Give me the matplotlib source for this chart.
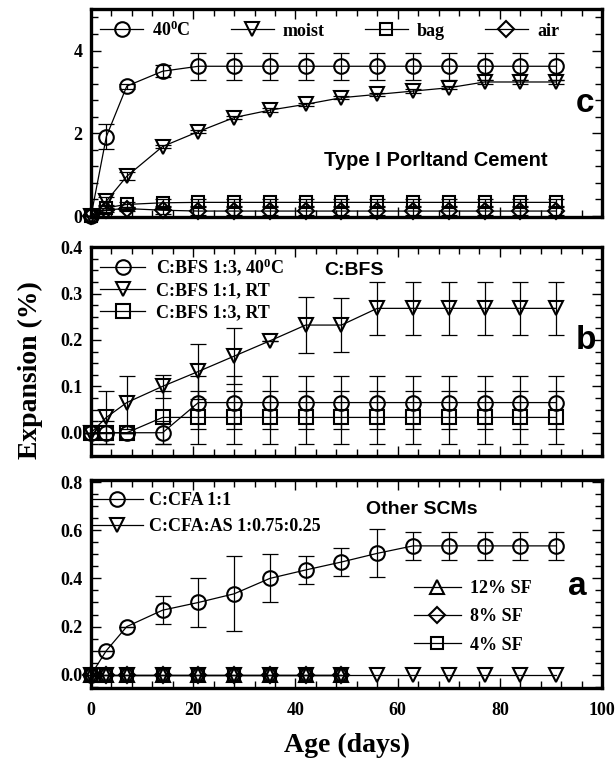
# expansion vs age, three stacked panels (c, b, a)
import numpy as np
import matplotlib.pyplot as plt
from matplotlib.ticker import MultipleLocator

plt.rcParams['font.family'] = 'Liberation Serif'
plt.rcParams['font.weight'] = 'bold'
plt.rcParams['mathtext.fontset'] = 'custom'
plt.rcParams['mathtext.rm'] = 'Liberation Serif:bold'
plt.rcParams['mathtext.it'] = 'Liberation Serif:bold'
plt.rcParams['mathtext.bf'] = 'Liberation Serif:bold'

# ages (days)
days = [0, 3, 7, 14, 21, 28, 35, 42, 49, 56, 63, 70, 77, 84, 91]

# panel c - Type I Portland cement
c_40 = [0, 1.92, 3.14, 3.50, 3.62, 3.62, 3.62, 3.62, 3.62, 3.62, 3.62, 3.62, 3.62, 3.62, 3.62]
c_40_err = [0, 0.30, 0.06, 0.14, 0.32, 0.32, 0.32, 0.32, 0.32, 0.32, 0.32, 0.32, 0.32, 0.32, 0.32]
c_moist = [0, 0.36, 0.96, 1.68, 2.04, 2.38, 2.56, 2.70, 2.86, 2.94, 3.02, 3.10, 3.24, 3.24, 3.24]
c_moist_err = [0, 0.10, 0.10, 0.04, 0.04, 0.04, 0.04, 0.04, 0.04, 0.04, 0.04, 0.04, 0.04, 0.04, 0.04]
c_bag = [0, 0.20, 0.28, 0.32, 0.33, 0.33, 0.33, 0.33, 0.33, 0.33, 0.33, 0.33, 0.33, 0.33, 0.33]
c_bag_err = [0, 0.05, 0.05, 0.08, 0.08, 0.08, 0.08, 0.08, 0.08, 0.08, 0.08, 0.08, 0.08, 0.08, 0.08]
c_air = [0, 0.15, 0.18, 0.14, 0.12, 0.12, 0.12, 0.12, 0.12, 0.12, 0.12, 0.12, 0.12, 0.12, 0.12]
c_air_err = [0, 0.05, 0.05, 0.08, 0.10, 0.10, 0.10, 0.10, 0.10, 0.10, 0.10, 0.10, 0.10, 0.10, 0.10]
c_labels = ['40$^0$C', 'moist', 'bag', 'air']

# panel b - C:BFS
b_40 = [0, 0, 0, 0, 0.065, 0.065, 0.065, 0.065, 0.065, 0.065, 0.065, 0.065, 0.065, 0.065, 0.065]
b_40_err = [0, 0, 0, 0.025, 0.058, 0.058, 0.058, 0.058, 0.058, 0.058, 0.058, 0.058, 0.058, 0.058, 0.058]
b_11 = [0, 0.033, 0.065, 0.10, 0.132, 0.165, 0.198, 0.232, 0.232, 0.268, 0.268, 0.268, 0.268, 0.268, 0.268]
b_11_err = [0, 0.058, 0.058, 0.025, 0.06, 0.06, 0, 0.06, 0.058, 0.057, 0.057, 0.057, 0.057, 0.057, 0.057]
b_13 = [0, 0, 0, 0.033, 0.033, 0.033, 0.033, 0.033, 0.033, 0.033, 0.033, 0.033, 0.033, 0.033, 0.033]
b_13_err = [0, 0.025, 0, 0.058, 0.058, 0.058, 0.058, 0.058, 0.058, 0.058, 0.058, 0.058, 0.058, 0.058, 0.058]
b_labels = ['C:BFS 1:3, 40$^0$C', 'C:BFS 1:1, RT', 'C:BFS 1:3, RT']

# panel a - other SCMs
a_cfa = [0, 0.10, 0.20, 0.268, 0.30, 0.336, 0.40, 0.435, 0.468, 0.504, 0.535, 0.535, 0.535, 0.535, 0.535]
a_cfa_err = [0, 0, 0, 0.058, 0.10, 0.155, 0.10, 0.058, 0.06, 0.10, 0.058, 0.058, 0.058, 0.058, 0.058]
a_cfaas = [0, 0, 0, 0, 0, 0, 0, 0, 0, 0, 0, 0, 0, 0, 0]
sf_days = [0, 3, 7, 14, 21, 28, 35, 42, 49]
sf_12 = [0, 0, 0, 0, 0, 0, 0, 0, 0]
sf_8 = [0, 0, 0, 0, 0, 0, 0, 0, 0]
sf_4 = [0, 0, 0, 0, 0, 0, 0, 0, 0]
a_labels = ['C:CFA 1:1', 'C:CFA:AS 1:0.75:0.25']
sf_labels = ['12% SF', '8% SF', '4% SF']

ms = 10.5
mew = 1.5
lw = 0.9


def series(ax, x, y, err, marker, label):
    if err is not None:
        ax.errorbar(x, y, yerr=err, fmt='none', ecolor='black', elinewidth=0.9,
                    capsize=5.5, capthick=0.9, clip_on=False)
    line, = ax.plot(x, y, color='black', lw=lw, marker=marker, ms=ms, mew=mew,
                    mfc='none', mec='black', label=label, clip_on=False)
    return line


fig = plt.figure(figsize=(6.15, 7.65), dpi=100)
ax_c = fig.add_axes([0.148, 0.716, 0.831, 0.272])
ax_b = fig.add_axes([0.148, 0.404, 0.831, 0.273])
ax_a = fig.add_axes([0.148, 0.101, 0.831, 0.272])

for ax in (ax_c, ax_b, ax_a):
    ax.set_xlim(0, 100)
    ax.xaxis.set_major_locator(MultipleLocator(20))
    ax.xaxis.set_minor_locator(MultipleLocator(4))
    ax.tick_params(which='both', direction='in', top=True, right=True, width=1.0)
    ax.tick_params(which='major', length=7, labelsize=13, pad=6)
    ax.tick_params(which='minor', length=5)
    ax.tick_params(axis='x', which='major', pad=10)
    for s in ax.spines.values():
        s.set_linewidth(2.4)

# panel c
h = []
h.append(series(ax_c, days, c_40, c_40_err, 'o', c_labels[0]))
h.append(series(ax_c, days, c_moist, c_moist_err, 'v', c_labels[1]))
h.append(series(ax_c, days, c_bag, c_bag_err, 's', c_labels[2]))
h.append(series(ax_c, days, c_air, c_air_err, 'D', c_labels[3]))
for l in h[2:]:
    l.set_markersize(8.5)
ax_c.set_ylim(-0.03, 5)
ax_c.yaxis.set_major_locator(MultipleLocator(2))
ax_c.yaxis.set_minor_locator(MultipleLocator(0.4))
ax_c.set_yticks([0, 2, 4])
ax_c.set_yticklabels(['0', '2', '4'])
ax_c.tick_params(labelbottom=False)
ax_c.legend(handles=h, loc='upper left', bbox_to_anchor=(0.0, 0.99), ncol=4,
            frameon=False, fontsize=13, handlelength=2.4, columnspacing=2.2,
            handletextpad=0.5, borderaxespad=0.1, numpoints=1)
ax_c.text(0.675, 0.274, 'Type I Porltand Cement', transform=ax_c.transAxes,
          family='Liberation Sans', fontweight='bold', fontsize=14.5, ha='center', va='center')
ax_c.text(0.967, 0.546, 'c', transform=ax_c.transAxes,
          family='Liberation Sans', fontweight='bold', fontsize=24, ha='center', va='center')

# panel b
h = []
h.append(series(ax_b, days, b_40, b_40_err, 'o', b_labels[0]))
h.append(series(ax_b, days, b_11, b_11_err, 'v', b_labels[1]))
h.append(series(ax_b, days, b_13, b_13_err, 's', b_labels[2]))
h[2].set_markersize(9.5)
ax_b.set_ylim(-0.05, 0.4)
ax_b.yaxis.set_major_locator(MultipleLocator(0.1))
ax_b.yaxis.set_minor_locator(MultipleLocator(0.025))
ax_b.yaxis.set_major_formatter('{x:.1f}')
ax_b.tick_params(labelbottom=False)
ax_b.legend(handles=h, loc='upper left', bbox_to_anchor=(0.0, 1.0), frameon=False,
            fontsize=13, handlelength=2.5, handletextpad=0.6, labelspacing=0.25,
            borderaxespad=0.1, numpoints=1)
ax_b.text(0.515, 0.89, 'C:BFS', transform=ax_b.transAxes,
          family='Liberation Sans', fontweight='bold', fontsize=14, ha='center', va='center')
ax_b.text(0.968, 0.555, 'b', transform=ax_b.transAxes,
          family='Liberation Sans', fontweight='bold', fontsize=24, ha='center', va='center')

# panel a
h = []
h.append(series(ax_a, days, a_cfa, a_cfa_err, 'o', a_labels[0]))
h.append(series(ax_a, days, a_cfaas, None, 'v', a_labels[1]))
h2 = []
h2.append(series(ax_a, sf_days, sf_12, None, '^', sf_labels[0]))
h2.append(series(ax_a, sf_days, sf_8, None, 'D', sf_labels[1]))
h2.append(series(ax_a, sf_days, sf_4, None, 's', sf_labels[2]))
h2[1].set_markersize(8.5)
h2[2].set_markersize(8.5)
ax_a.set_ylim(-0.054, 0.81)
ax_a.yaxis.set_major_locator(MultipleLocator(0.2))
ax_a.yaxis.set_minor_locator(MultipleLocator(0.05))
ax_a.yaxis.set_major_formatter('{x:.1f}')
leg1 = ax_a.legend(handles=h, loc='upper left', bbox_to_anchor=(-0.012, 0.975), frameon=False,
                   fontsize=13, handlelength=2.8, handletextpad=0.35, labelspacing=0.5,
                   borderaxespad=0.0, numpoints=1)
ax_a.add_artist(leg1)
ax_a.legend(handles=h2, loc='center left', bbox_to_anchor=(0.6, 0.34), frameon=False,
            fontsize=13, handlelength=2.6, handletextpad=0.5, labelspacing=0.62,
            numpoints=1)
ax_a.text(0.648, 0.855, 'Other SCMs', transform=ax_a.transAxes,
          family='Liberation Sans', fontweight='bold', fontsize=14, ha='center', va='center')
ax_a.text(0.951, 0.486, 'a', transform=ax_a.transAxes,
          family='Liberation Sans', fontweight='bold', fontsize=24, ha='center', va='center')
ax_a.set_xlabel('Age (days)', fontsize=20, fontweight='bold', labelpad=10)

fig.text(0.049, 0.516, 'Expansion (%)', rotation=90, fontsize=20, fontweight='bold',
         ha='center', va='center')

fig.savefig('out.png', dpi=100)
